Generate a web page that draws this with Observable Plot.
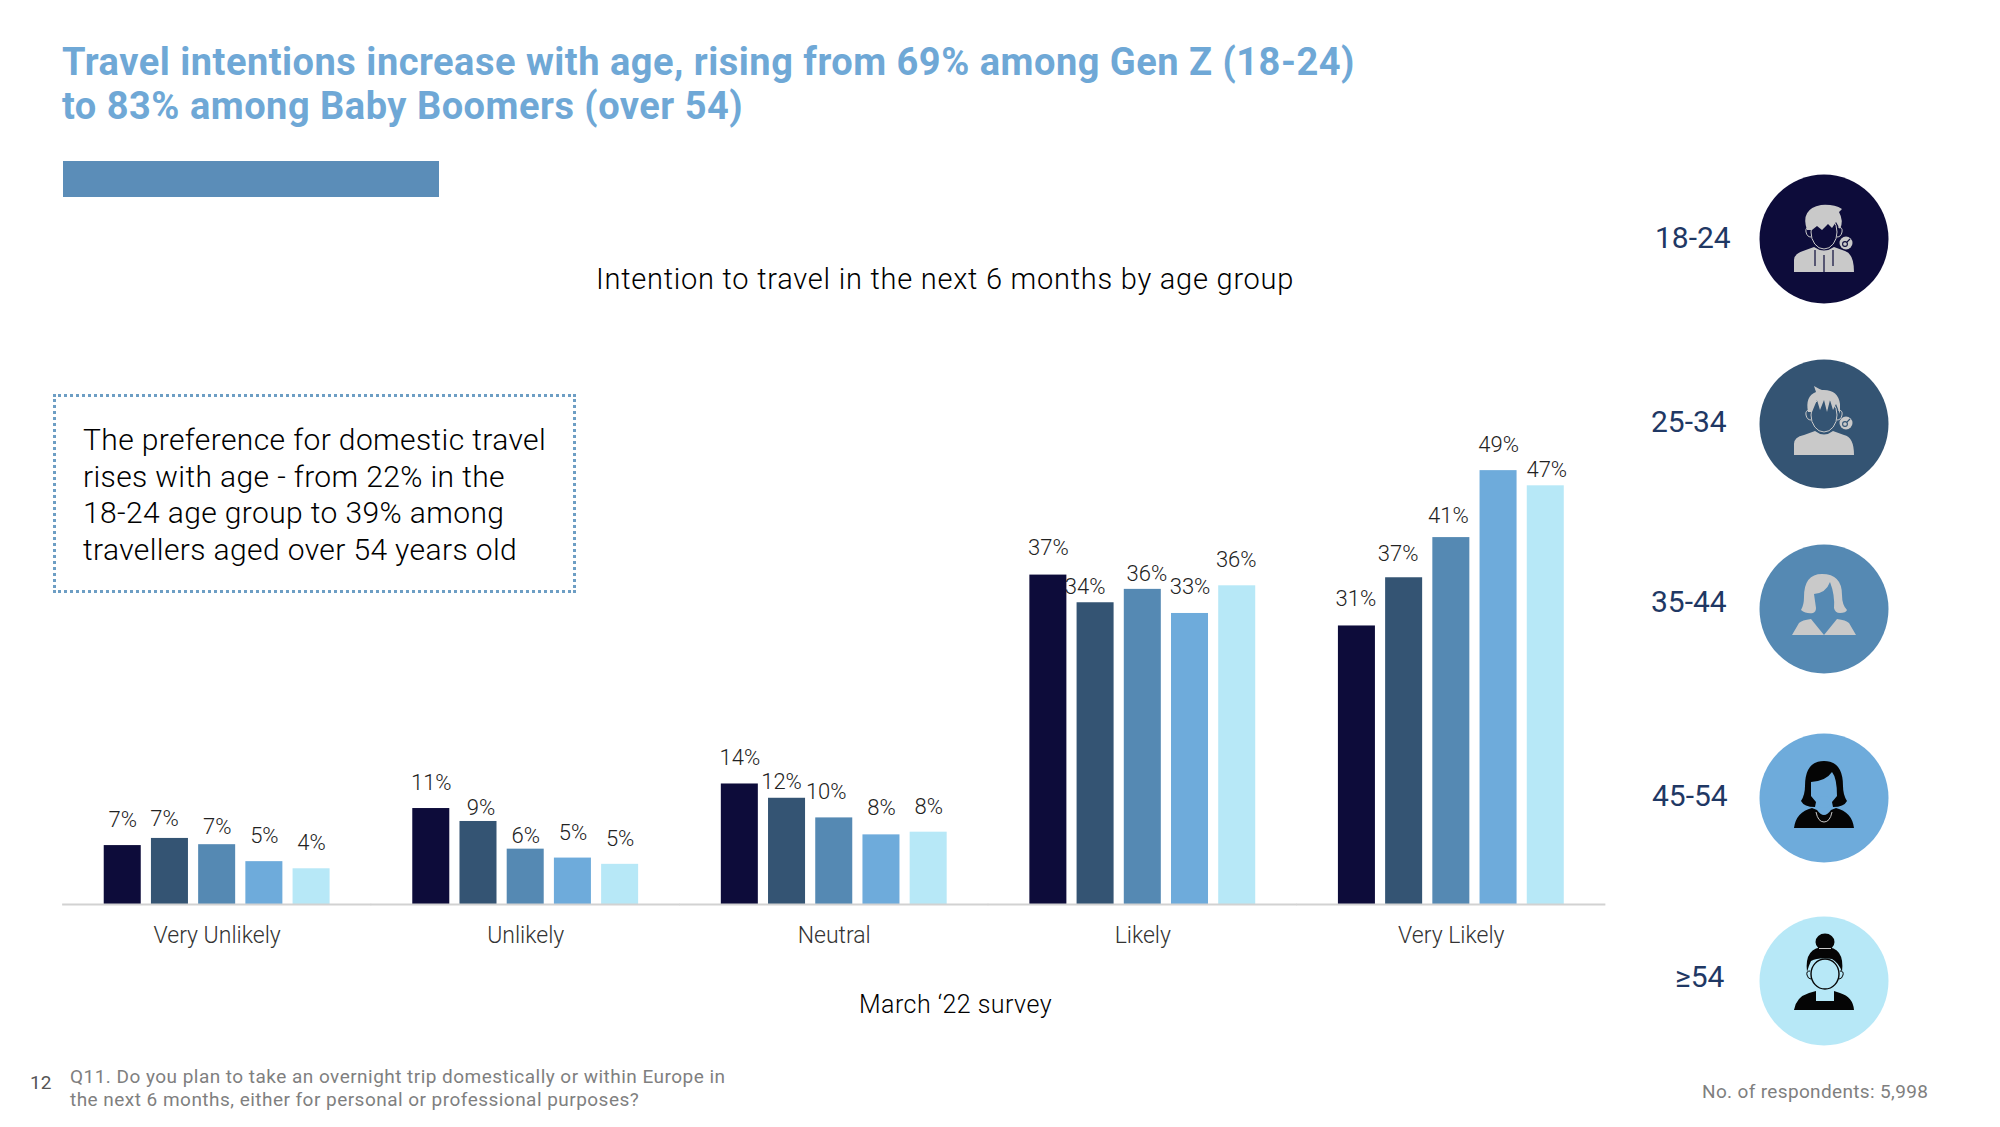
<!DOCTYPE html>
<html><head><meta charset="utf-8">
<script src="https://cdn.jsdelivr.net/npm/d3@7"></script>
<script src="https://cdn.jsdelivr.net/npm/@observablehq/plot@0.6"></script>
<style>
html,body{margin:0;padding:0;background:#fff}
#page{position:relative;width:2000px;height:1127px;overflow:hidden;font-family:Roboto,sans-serif}
#page>div{position:absolute;white-space:nowrap}
#chart{left:0;top:0}
#chart svg{display:block;background:transparent}
</style></head><body>
<div id="page">
<div id="chart"></div>
<div style="left:62px;top:40px;font-size:38px;line-height:44px;font-weight:700;color:#6fa8d6;letter-spacing:.5px">Travel intentions increase with age, rising from 69% among Gen Z (18-24)<br>to 83% among Baby Boomers (over 54)</div>
<div style="left:63px;top:161px;width:376px;height:36px;background:#5b8db8"></div>
<div style="left:596px;top:260px;font-size:29px;line-height:38px;font-weight:300;color:#000;letter-spacing:.75px">Intention to travel in the next 6 months by age group</div>
<div style="left:53px;top:394px;width:523px;height:199px;box-sizing:border-box;border:3px dotted #6d9ec4"></div>
<div style="left:83px;top:422px;font-size:30px;line-height:36.6px;font-weight:300;color:#000;letter-spacing:.38px">The preference for domestic travel<br>rises with age - from 22% in the<br>18-24 age group to 39% among<br>travellers aged over 54 years old</div>
<div style="left:859px;top:988px;font-size:25px;line-height:34px;font-weight:300;color:#000;letter-spacing:.45px">March ‘22 survey</div>
<div style="left:30px;top:1071px;font-size:19px;line-height:24px;color:#555">12</div>
<div style="left:70px;top:1065px;font-size:19px;line-height:23px;color:#7f7f7f;letter-spacing:.47px">Q11. Do you plan to take an overnight trip domestically or within Europe in<br>the next 6 months, either for personal or professional purposes?</div>
<div style="left:1702px;top:1080px;font-size:19px;line-height:24px;color:#7f7f7f;letter-spacing:.35px">No. of respondents: 5,998</div>
</div>
<script>
const categories = ["Very Unlikely", "Unlikely", "Neutral", "Likely", "Very Likely"];
const ages = ["18-24", "25-34", "35-44", "45-54", "≥54"];
const colors = ["#0d0c3a", "#345473", "#5589b3", "#6eabdb", "#b7e8f7"];

// Bar heights
const veryUnlikely = [6.6, 7.4, 6.7, 4.8, 4.0];
const unlikely = [10.75, 9.3, 6.2, 5.2, 4.5];
const neutral = [13.5, 11.9, 9.7, 7.8, 8.1];
const likely = [36.9, 33.8, 35.3, 32.6, 35.7];
const veryLikely = [31.2, 36.6, 41.1, 48.6, 46.9];
const barSeries = [veryUnlikely, unlikely, neutral, likely, veryLikely];

// Printed labels
const labelsVeryUnlikely = ["7%", "7%", "7%", "5%", "4%"];
const labelsUnlikely = ["11%", "9%", "6%", "5%", "5%"];
const labelsNeutral = ["14%", "12%", "10%", "8%", "8%"];
const labelsLikely = ["37%", "34%", "36%", "33%", "36%"];
const labelsVeryLikely = ["31%", "37%", "41%", "49%", "47%"];
const labelSeries = [labelsVeryUnlikely, labelsUnlikely, labelsNeutral, labelsLikely, labelsVeryLikely];

// Hand placement of the labels, as on the slide
const nudgeX = [[0,-5.5,0,0,0],[0,2.5,0,0,0],[0,-5.5,-8,0,0],[0,-10.5,4,0,-1],[-1,-6,-3,0,1]];
const nudgeY = [[-26,-19,-18,-26,-26],[-26,-13.5,-13.5,-25.5,-25.5],[-26,-16,-26,-26.5,-25.5],[-26.7,-16,-15,-27,-26],[-27,-24,-21.4,-25.7,-16]];

const rows = categories.flatMap((category, i) => ages.map((age, j) => ({
  category, age, value: barSeries[i][j], label: labelSeries[i][j], dx: nudgeX[i][j], dy: nudgeY[i][j]
})));

const chart = Plot.plot({
  width: 2000, height: 1127,
  marginLeft: 63, marginRight: 395.5, marginTop: 413, marginBottom: 223,
  style: {background: "transparent", fontFamily: "Roboto, sans-serif"},
  fx: {domain: categories, paddingInner: 0.268, paddingOuter: 0.132, round: false, label: null},
  x: {domain: ages, paddingInner: 0.216, paddingOuter: 0, round: false, axis: null},
  y: {domain: [0, 55], axis: null},
  color: {domain: ages, range: colors},
  marks: [
    Plot.barY(rows, {fx: "category", x: "age", y: "value", fill: "age"}),
    Plot.ruleY([0], {stroke: "#d2d2d2", strokeWidth: 2, insetLeft: -41.6, insetRight: -41.6}),
    ...rows.map(d => Plot.text([d], {fx: "category", x: "age", y: "value", text: "label", dx: d.dx, dy: d.dy,
      lineAnchor: "middle", fontSize: 22, fontWeight: 300, fill: "#222"})),
    Plot.axisFx({anchor: "bottom", tickSize: 0, tickPadding: 22, fontSize: 23, fontWeight: 300, fill: "#333", label: null})
  ]
});
document.getElementById("chart").append(chart);

// Legend on the right: circle, person glyph, age label
const legendCentres = [238.7, 423.7, 609, 798, 981];
const labelPlacement = [[1655, 238], [1651, 421.7], [1651, 601.7], [1652, 796], [1675, 976.7]];
const G = "#c9c9c9", K = "#050505";
const glyph = {
 hoodie: (f, b) => `
  <path fill="${f}" d="M-30,33V21Q-30,15-21,12L-10,8Q0,15 10,8L21,12Q30,15 30,33Z"/>
  <ellipse cx="0" cy="-7" rx="13" ry="17" fill="${b}" stroke="${f}" stroke-width="1"/>
  <path fill="${f}" d="M-17,-9Q-24,-30-3,-34Q10,-35 18,-30L15,-27Q20,-18 16,-10L12,-17L8,-11L4,-15L-2,-9L-7,-13L-12,-9Z"/>
  <path fill="none" stroke="${b}" stroke-width="1.2" d="M-9,11V27M9,11V27M0,16V33"/>
  <path fill="none" stroke="${f}" stroke-width="1" d="M-14,-12q-5,0-4,5t5,5M14,-12q5,0 4,5t-5,5"/>
  <circle cx="22" cy="4" r="6.5" fill="${f}"/><circle cx="21" cy="5" r="2.4" fill="none" stroke="${b}" stroke-width="1.1"/><path stroke="${b}" stroke-width="1.1" d="M23,3L26,0"/>`,
 tee: (f, b) => `
  <path fill="${f}" d="M-30,31V20Q-30,13-20,11L-9,7Q0,14 9,7L20,11Q30,13 30,31Z"/>
  <ellipse cx="0" cy="-9" rx="13" ry="17" fill="${b}" stroke="${f}" stroke-width="1"/>
  <path fill="${f}" d="M-16,-12Q-19,-28-8,-32L-10,-38Q-5,-35-2,-34Q14,-35 16,-20L16,-10L12,-20L9,-14L6,-24L3,-12L0,-24L-4,-14L-7,-24L-12,-12Z"/>
  <path fill="none" stroke="${f}" stroke-width="1" d="M-14,-14q-5,0-4,5t5,5M14,-14q5,0 4,5t-5,5"/>
  <circle cx="22" cy="-1" r="6.5" fill="${f}"/><circle cx="21" cy="0" r="2.4" fill="none" stroke="${b}" stroke-width="1.1"/><path stroke="${b}" stroke-width="1.1" d="M23,-2L26,-5"/>`,
 bob: (f, b) => `
  <path fill="${f}" d="M-32,26L-25,14Q-22,11-13,10L0,26L13,10Q22,11 25,14L32,26Z"/>
  <path fill="${f}" d="M-2,-35Q-20,-35-20,-12Q-20,-4-23,1Q-18,5-11,4Q-8,3-8,-1L-10,-15Q2,-16 6,-27Q11,-14 10,-1Q11,4 16,4Q22,4 23,1Q18,-4 18,-14Q18,-35-2,-35Z"/>`,
 collar: (f, b) => `
  <path fill="${f}" d="M-30,30Q-28,14-12,10L-7,12Q0,22 7,12L12,10Q28,14 30,30Z"/>
  <path fill="none" stroke="${G}" stroke-width="1" d="M-8,14Q-6,24 0,24Q6,24 8,14"/>
  <path fill="${f}" d="M0,-37Q-19,-37-19,-12Q-19,-3-23,3Q-20,9-9,9L-8,4L-13,-2L-13,-16Q2,-17 8,-26Q13,-20 13,-2L8,4L9,9Q20,9 23,3Q19,-3 19,-12Q19,-37 0,-37Z"/>
  <ellipse cx="0" cy="4" rx="7" ry="6" fill="${b}"/>`,
 bun: (f, b) => `
  <path fill="${f}" d="M-30,29Q-28,16-15,12L-8,10V20H10V10L16,12Q29,16 30,29Z"/>
  <ellipse cx="1" cy="-7" rx="14" ry="15" fill="${b}" stroke="${f}" stroke-width="1.4"/>
  <path fill="${f}" d="M-17,-9Q-20,-34 1,-34Q21,-34 18,-9Q15,-18 8,-22Q-5,-24-13,-20Q-15,-16-17,-9Z"/>
  <ellipse cx="1" cy="-39" rx="9.5" ry="8.5" fill="${f}"/>
  <path fill="none" stroke="${f}" stroke-width="1" d="M-14,-10q-4,0-3,4t4,4M16,-10q4,0 3,4t-4,4"/>
  <path stroke="${G}" stroke-width="1" d="M-5,-32.5H7"/>`
};
const glyphs = [["hoodie", G], ["tee", G], ["bob", G], ["collar", K], ["bun", K]];
const page = document.getElementById("page");
ages.forEach((age, i) => {
  const c = legendCentres[i];
  const [name, f] = glyphs[i];
  const box = document.createElement("div");
  box.style.cssText = `left:1759px;top:${c - 65}px;width:130px;height:130px`;
  box.innerHTML = `<svg width="130" height="130" viewBox="-65 -65 130 130" style="display:block"><circle r="64.5" fill="${colors[i]}"/>${glyph[name](f, colors[i])}</svg>`;
  page.append(box);
  const t = document.createElement("div");
  const [lx, ly] = labelPlacement[i];
  t.style.cssText = `left:${lx}px;top:${ly - 20}px;font-size:30px;line-height:40px;color:#1f3864`;
  t.textContent = age;
  page.append(t);
});
</script>
</body></html>
